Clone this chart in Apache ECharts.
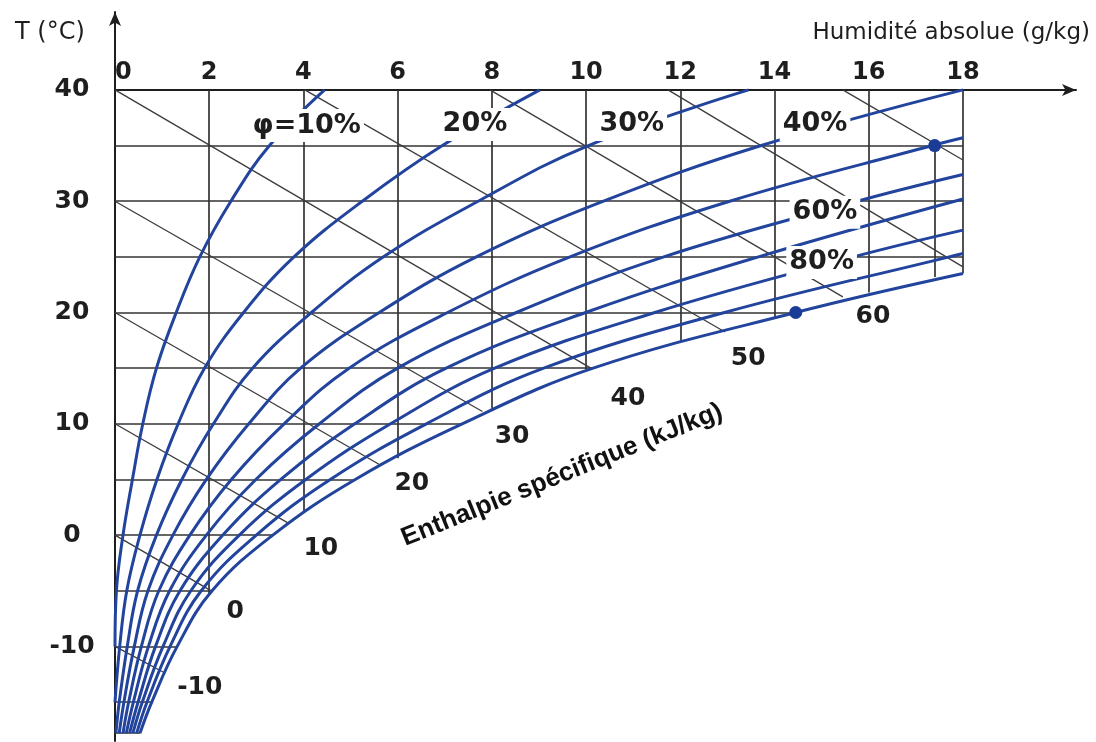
<!DOCTYPE html>
<html>
<head>
<meta charset="utf-8">
<script src="https://cdn.jsdelivr.net/npm/echarts@6/dist/echarts.min.js"></script>
<style>
html, body { margin: 0; padding: 0; background: #ffffff; }
#chart { width: 1096px; height: 742px; }
</style>
</head>
<body>
<div id="chart"></div>
<script>
// Axis tick labels
const wTicks = [0, 2, 4, 6, 8, 10, 12, 14, 16, 18];
const tTicks = [-10, 0, 10, 20, 30, 40];

// Relative humidity curves, points as [humidité absolue (g/kg), T (°C)]
const phi10 = [[0, -10], [0.03, -5], [0.17, 0], [0.37, 5], [0.59, 10], [0.88, 15], [1.30, 20], [1.80, 25], [2.46, 30], [3.28, 35], [4.45, 40]];
const phi20 = [[0, -15], [0.10, -10], [0.25, -5], [0.53, 0], [0.89, 5], [1.34, 10], [1.90, 15], [2.73, 20], [3.80, 25], [5.25, 30], [6.95, 35], [9.02, 40]];
const phi30 = [[0.02, -17.8], [0.09, -15], [0.26, -10], [0.48, -5], [0.88, 0], [1.42, 5], [2.09, 10], [2.92, 15], [4.17, 20], [5.70, 25], [7.71, 30], [10.05, 35], [13.45, 40]];
const phi40 = [[0.09, -17.8], [0.19, -15], [0.41, -10], [0.70, -5], [1.23, 0], [1.94, 5], [2.84, 10], [3.94, 15], [5.61, 20], [7.67, 25], [10.37, 30], [13.72, 35], [18.0, 40]];
const phi50 = [[0.17, -17.8], [0.29, -15], [0.56, -10], [0.93, -5], [1.59, 0], [2.47, 5], [3.59, 10], [4.97, 15], [7.06, 20], [9.66, 25], [13.05, 30], [17.35, 35], [18.0, 35.7]];
const phi60 = [[0.24, -17.8], [0.39, -15], [0.71, -10], [1.16, -5], [1.94, 0], [2.99, 5], [4.34, 10], [6.00, 15], [8.52, 20], [11.65, 25], [15.76, 30], [18.0, 32.4]];
const phi70 = [[0.31, -17.8], [0.49, -15], [0.86, -10], [1.38, -5], [2.29, 0], [3.52, 5], [5.09, 10], [7.03, 15], [9.99, 20], [13.66, 25], [18.0, 30.2]];
const phi80 = [[0.38, -17.8], [0.58, -15], [1.02, -10], [1.61, -5], [2.64, 0], [4.05, 5], [5.85, 10], [8.06, 15], [11.46, 20], [15.68, 25], [18.0, 27.4]];
const phi90 = [[0.46, -17.8], [0.68, -15], [1.17, -10], [1.83, -5], [3.00, 0], [4.57, 5], [6.61, 10], [9.10, 15], [12.94, 20], [17.71, 25], [18.0, 25.3]];
const phi100 = [[0.53, -17.8], [0.78, -15], [1.32, -10], [2.06, -5], [3.35, 0], [5.10, 5], [7.37, 10], [10.15, 15], [14.45, 20], [18.0, 23.5]];

// Curve labels and where they sit
const rhLabelText = ['φ=10%', '20%', '30%', '40%', '60%', '80%'];
const rhLabelPos = [[4.07, 36.8], [7.64, 36.9], [10.97, 36.9], [14.86, 36.9], [15.07, 29.0], [15.0, 24.5]];

// Isotherms (from the T axis to the saturation curve)
const isoT = [35, 30, 25, 20, 15, 10, 5, 0, -5, -10, -15, -17.8];
const isoTEnd = [18, 18, 18, 14.45, 10.15, 7.37, 5.10, 3.35, 2.06, 1.32, 0.78, 0.53];

// Lines of constant humidity (from T = 40 down to the saturation curve)
const isoW = [2, 4, 6, 8, 10, 12, 14, 16, 18];
const isoWEnd = [-5.3, 2.0, 6.9, 11.2, 14.9, 17.4, 19.6, 21.8, 23.5];
const extraW = [17.4, 35, 23.2];

// Specific enthalpy lines (kJ/kg)
const hStart = [[0, -10], [0, 0], [0, 10], [0, 20], [0, 30], [0, 40], [4.03, 40], [7.96, 40], [11.74, 40], [15.45, 40]];
const hEnd = [[1.02, -12.3], [2.08, -5.1], [3.67, 1.1], [5.63, 6.3], [7.8, 11.1], [10.1, 15.0], [12.95, 18.25], [15.45, 21.4], [18, 24.1], [18, 33.7]];
const hLabelText = ['-10', '0', '10', '20', '30', '40', '50', '60'];
const hLabelPos = [[1.80, -13.7], [2.55, -6.9], [4.37, -1.2], [6.30, 4.6], [8.43, 8.9], [10.89, 12.3], [13.44, 15.9], [16.09, 19.6]];
const hTitle = 'Enthalpie spécifique (kJ/kg)';
const hTitlePos = [9.49, 5.41];

// Marked states
const states = [[17.4, 35], [14.45, 20]];

const BLUE = '#22449c';
const INK = '#1e1e1e';
const FONT = '"DejaVu Sans", sans-serif';

const chart = echarts.init(document.getElementById('chart'), null, { renderer: 'canvas' });

const gridSegments = [];
isoT.forEach((t, i) => gridSegments.push({ coords: [[0, t], [isoTEnd[i], t]] }));
isoW.forEach((w, i) => gridSegments.push({ coords: [[w, 40], [w, isoWEnd[i]]] }));
gridSegments.push({ coords: [[extraW[0], extraW[1]], [extraW[0], extraW[2]]] });

const hSegments = hStart.map((s, i) => ({ coords: [s, hEnd[i]] }));

const curves = [phi10, phi20, phi30, phi40, phi50, phi60, phi70, phi80, phi90, phi100];

const series = [
  {
    type: 'lines', coordinateSystem: 'cartesian2d', z: 1, silent: true,
    lineStyle: { color: '#333333', width: 1.7, opacity: 1 },
    data: gridSegments
  },
  {
    type: 'lines', coordinateSystem: 'cartesian2d', z: 2, silent: true,
    lineStyle: { color: '#3c3c3c', width: 1.3, opacity: 1 },
    data: hSegments
  }
];

curves.forEach((c, i) => {
  series.push({
    type: 'line', name: (i + 1) * 10 + '%', data: c, z: 3,
    smooth: 0.4, showSymbol: false, silent: true,
    lineStyle: { color: BLUE, width: 3 }
  });
});

series.push({
  type: 'scatter', z: 4, silent: true, data: states,
  symbolSize: 13, itemStyle: { color: '#1a3c96', opacity: 1 }
});

// Text placed in data space: transparent anchor symbol, fully opaque label
function textSeries(points, names, label) {
  return {
    type: 'scatter', z: 6, zlevel: 0, silent: true, symbolSize: 1,
    itemStyle: { color: 'rgba(0,0,0,0)', opacity: 1 },
    data: points.map((p, i) => ({ value: p, name: names[i] })),
    label: Object.assign({ show: true, position: 'inside', formatter: '{b}', opacity: 1 }, label)
  };
}

series.push(textSeries(rhLabelPos, rhLabelText, {
  fontFamily: FONT, fontWeight: 'bold', fontSize: 27, color: INK,
  backgroundColor: '#ffffff', padding: [2, 3, 4, 3]
}));

series.push(textSeries(hLabelPos, hLabelText, {
  fontFamily: FONT, fontWeight: 'bold', fontSize: 25, color: INK
}));

series.push(textSeries([hTitlePos], [hTitle], {
  rotate: 22, fontFamily: '"Liberation Sans", Arial, sans-serif', fontWeight: 'bold', fontSize: 26, color: '#111111'
}));

chart.setOption({
  animation: false,
  backgroundColor: '#ffffff',
  grid: { left: 115, right: 20, top: 12, bottom: 1, containLabel: false, outerBoundsMode: 'none' },
  xAxis: {
    type: 'value', position: 'top', min: 0, max: 20.4, offset: -78,
    axisLine: { show: true, onZero: false, symbol: ['none', 'arrow'], symbolSize: [9, 14], lineStyle: { color: INK, width: 2 } },
    axisTick: { show: false },
    splitLine: { show: false },
    axisLabel: {
      customValues: wTicks, margin: 5, alignMinLabel: 'left',
      fontFamily: FONT, fontWeight: 'bold', fontSize: 24, color: INK
    }
  },
  yAxis: {
    type: 'value', min: -18.5, max: 47,
    axisLine: { show: true, onZero: false, symbol: ['none', 'arrow'], symbolSize: [9, 14], lineStyle: { color: INK, width: 2 } },
    axisTick: { show: false },
    splitLine: { show: false },
    axisLabel: {
      customValues: tTicks, margin: 43, align: 'center',
      fontFamily: FONT, fontWeight: 'bold', fontSize: 25, color: INK
    }
  },
  graphic: [
    { type: 'text', left: 15, top: 21, style: { text: 'T (°C)', font: '24px "DejaVu Sans", sans-serif', fill: INK } },
    { type: 'text', right: 6, top: 22, style: { text: 'Humidité absolue (g/kg)', font: '23px "DejaVu Sans", sans-serif', fill: INK } }
  ],
  series: series
});
</script>
</body>
</html>
